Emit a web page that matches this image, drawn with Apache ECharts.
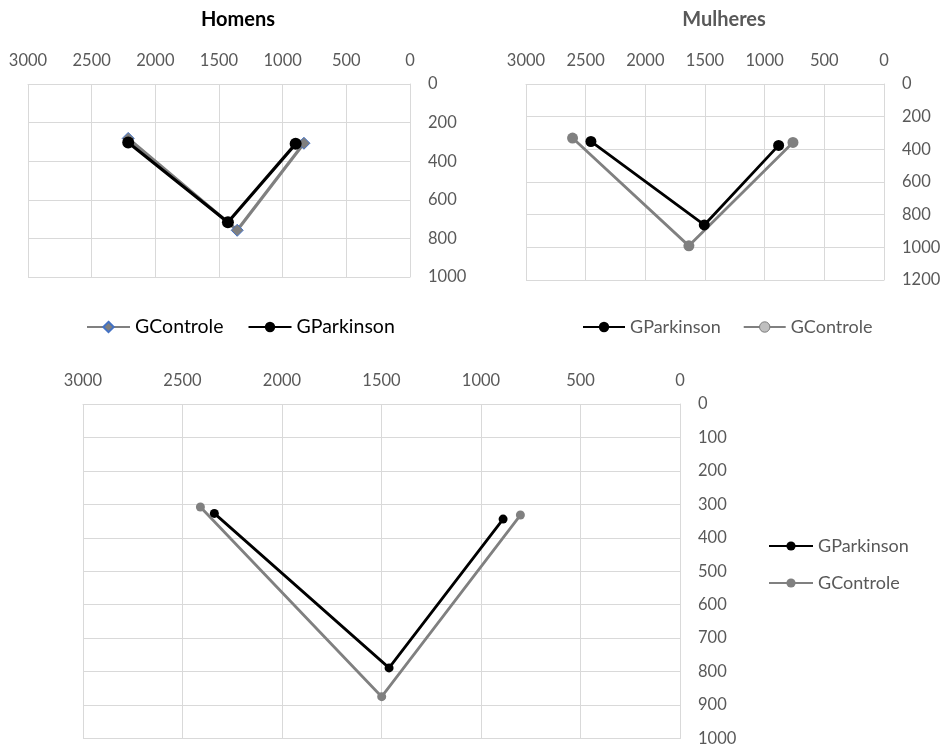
<!DOCTYPE html>
<html>
<head>
<meta charset="utf-8">
<script src="https://cdn.jsdelivr.net/npm/echarts@6/dist/echarts.min.js"></script>
<style>html,body{margin:0;padding:0;background:#fff}#c{width:949px;height:747px}</style>
</head>
<body>
<div id="c"></div>
<script>
// Homens
var homensControleX = [2213, 1357, 833];
var homensControleY = [282, 758, 307];
var homensParkinsonX = [2213, 1430, 898];
var homensParkinsonY = [303, 716, 310];
// Mulheres
var mulheresParkinsonX = [2456, 1506, 883];
var mulheresParkinsonY = [352, 863, 376];
var mulheresControleX = [2610, 1635, 763];
var mulheresControleY = [331, 991, 358];
// Combined
var totalParkinsonX = [2340, 1462, 889];
var totalParkinsonY = [327, 789, 344];
var totalControleX = [2410, 1499, 802];
var totalControleY = [308, 875, 332];

var titles = ['Homens', 'Mulheres'];
var xTicks = {min: 0, max: 3000, interval: 500};
var yTicks = [{min: 0, max: 1000, interval: 200}, {min: 0, max: 1200, interval: 200}, {min: 0, max: 1000, interval: 100}];

function pts(xs, ys) { return xs.map(function (x, i) { return [x, ys[i]]; }); }

var FONT = 'Lato, "Open Sans", sans-serif';
var GRID = '#d9d9d9';
var LBL = '#595959';

var grids = [
  {left: 28, top: 84, width: 382, height: 193},
  {left: 526, top: 84, width: 358, height: 196},
  {left: 83, top: 404, width: 597, height: 336}
];

var plain = function (v) { return String(v); };

function xAxis(i) {
  return {
    type: 'value', gridIndex: i, inverse: true, position: 'top',
    min: xTicks.min, max: xTicks.max, interval: xTicks.interval,
    axisLine: {show: true, onZero: false, lineStyle: {color: GRID, width: 1}},
    axisTick: {show: false},
    splitLine: {show: true, lineStyle: {color: GRID, width: 1}},
    axisLabel: {color: LBL, fontSize: 16.5, fontFamily: FONT, margin: 15, formatter: plain}
  };
}
function yAxis(i) {
  return {
    type: 'value', gridIndex: i, inverse: true, position: 'right',
    min: yTicks[i].min, max: yTicks[i].max, interval: yTicks[i].interval,
    axisLine: {show: true, onZero: false, lineStyle: {color: GRID, width: 1}},
    axisTick: {show: false},
    splitLine: {show: true, lineStyle: {color: GRID, width: 1}},
    axisLabel: {color: LBL, fontSize: 16.5, fontFamily: FONT, margin: 18, formatter: plain}
  };
}

var trim = function (n) { return n.trim(); };

var option = {
  animation: false,
  backgroundColor: '#ffffff',
  title: [
    {text: titles[0], left: 233, top: 5, textAlign: 'center',
     textStyle: {fontFamily: FONT, fontWeight: 'bold', fontSize: 20, color: '#000000'}},
    {text: titles[1], left: 719, top: 5, textAlign: 'center',
     textStyle: {fontFamily: FONT, fontWeight: 'bold', fontSize: 20, color: '#595959'}}
  ],
  grid: grids,
  xAxis: [xAxis(0), xAxis(1), xAxis(2)],
  yAxis: [yAxis(0), yAxis(1), yAxis(2)],
  legend: [
    {data: ['GControle', 'GParkinson'], left: 81, top: 312, orient: 'horizontal',
     itemWidth: 43, itemHeight: 13, itemGap: 24, formatter: trim,
     textStyle: {color: '#000000', fontSize: 19.5, fontFamily: FONT}},
    {data: ['GParkinson ', {name: 'GControle ', itemStyle: {color: '#bfbfbf', borderColor: '#7f7f7f', borderWidth: 1}}],
     left: 577, top: 313, orient: 'horizontal',
     itemWidth: 42, itemHeight: 13, itemGap: 22, formatter: trim,
     textStyle: {color: '#595959', fontSize: 18, fontFamily: FONT}},
    {data: ['GParkinson  ', 'GControle  '], left: 763, top: 531, orient: 'vertical',
     itemWidth: 44, itemHeight: 11.5, itemGap: 17, formatter: trim,
     textStyle: {color: '#595959', fontSize: 18, fontFamily: FONT, lineHeight: 20}}
  ],
  series: [
    {name: 'GControle', type: 'line', xAxisIndex: 0, yAxisIndex: 0,
     data: pts(homensControleX, homensControleY),
     symbol: 'diamond', symbolSize: 12,
     lineStyle: {color: '#808080', width: 3.2},
     itemStyle: {color: '#7f7f7f', borderColor: '#4472c4', borderWidth: 1}},
    {name: 'GParkinson', type: 'line', xAxisIndex: 0, yAxisIndex: 0,
     data: pts(homensParkinsonX, homensParkinsonY),
     symbol: 'circle', symbolSize: 12,
     lineStyle: {color: '#000000', width: 3.2},
     itemStyle: {color: '#000000', borderColor: '#000000', borderWidth: 0}},

    {name: 'GParkinson ', type: 'line', xAxisIndex: 1, yAxisIndex: 1,
     data: pts(mulheresParkinsonX, mulheresParkinsonY),
     symbol: 'circle', symbolSize: 11,
     lineStyle: {color: '#000000', width: 2.8},
     itemStyle: {color: '#000000', borderWidth: 0}},
    {name: 'GControle ', type: 'line', xAxisIndex: 1, yAxisIndex: 1,
     data: pts(mulheresControleX, mulheresControleY),
     symbol: 'circle', symbolSize: 11,
     lineStyle: {color: '#808080', width: 2.8},
     itemStyle: {color: '#808080', borderWidth: 0}},

    {name: 'GParkinson  ', type: 'line', xAxisIndex: 2, yAxisIndex: 2,
     data: pts(totalParkinsonX, totalParkinsonY),
     symbol: 'circle', symbolSize: 9,
     lineStyle: {color: '#000000', width: 2.8},
     itemStyle: {color: '#000000', borderWidth: 0}},
    {name: 'GControle  ', type: 'line', xAxisIndex: 2, yAxisIndex: 2,
     data: pts(totalControleX, totalControleY),
     symbol: 'circle', symbolSize: 9,
     lineStyle: {color: '#808080', width: 2.8},
     itemStyle: {color: '#808080', borderWidth: 0}}
  ]
};

var chart = echarts.init(document.getElementById('c'), null, {renderer: 'canvas'});
chart.setOption(option);
</script>
</body>
</html>
